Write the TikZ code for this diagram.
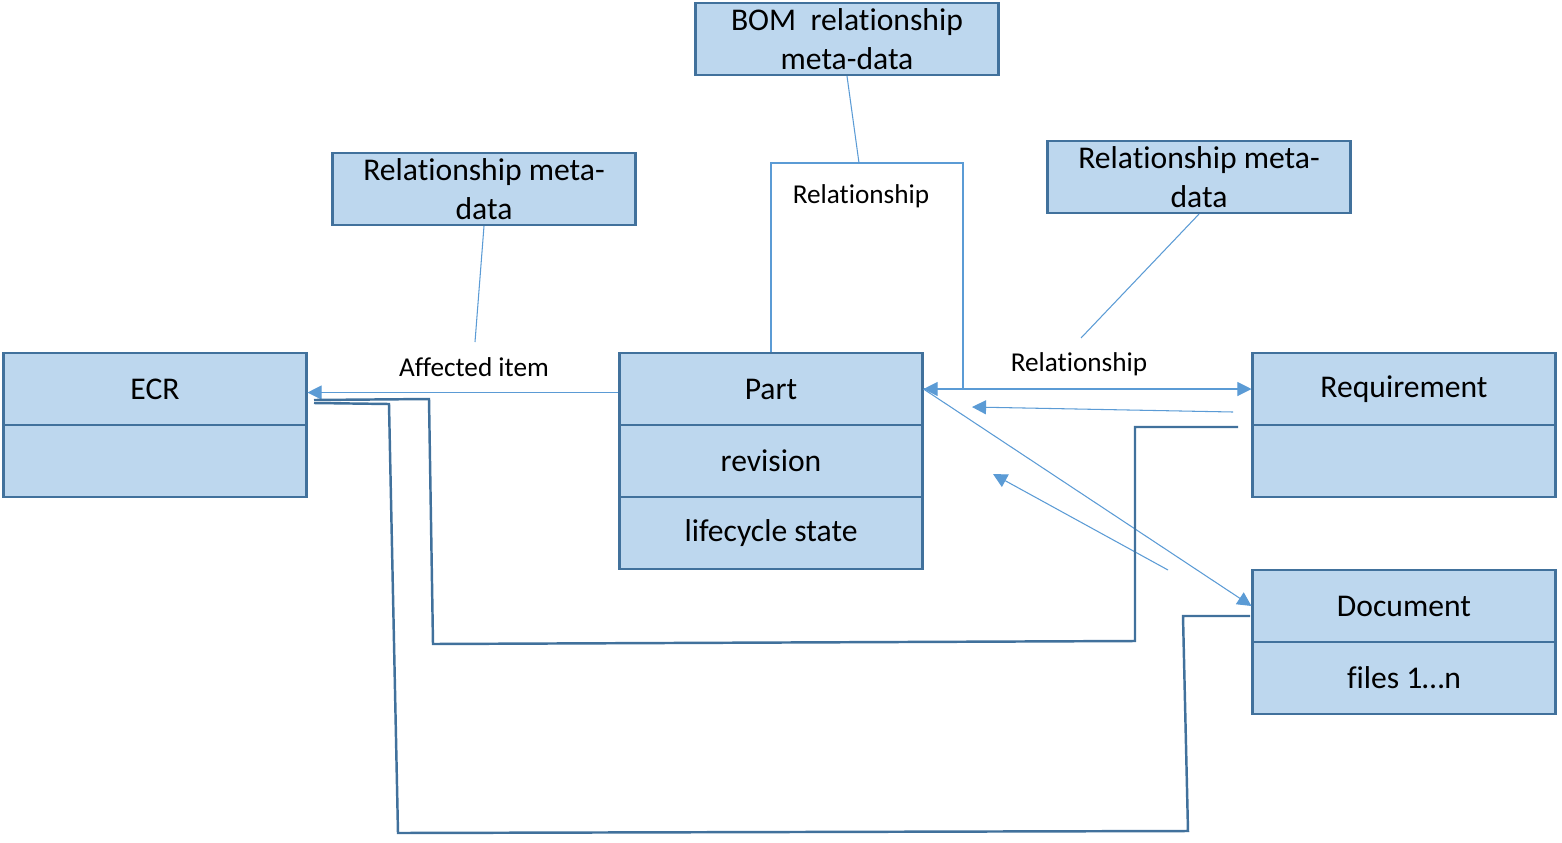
\documentclass[tikz,border=0pt]{standalone}
\usepackage{fontspec}
\setmainfont{Carlito}[Ligatures=NoCommon]
\usepackage{tikz}
\usetikzlibrary{positioning}
\usetikzlibrary{arrows.meta}
\definecolor{boxfill}{RGB}{189,215,238}
\definecolor{boxline}{RGB}{65,113,156}
\definecolor{linkline}{RGB}{91,155,213}
\definecolor{ecrline}{RGB}{65,113,156}

\begin{document}
\begin{tikzpicture}[x=0.02cm,y=-0.02cm,
		box/.style={draw=boxline,fill=boxfill,line width=1.2pt,minimum width=6.06cm,minimum height=1.44cm,inner sep=0pt,align=center,font=\fontsize{18}{22}\selectfont},
		link/.style={draw=linkline,line width=0.6pt},
		tip/.style={-{Triangle[length=8pt,width=8pt]}},
		ecrlink/.style={draw=ecrline,line width=1.4pt},
		lbl/.style={font=\fontsize{15.5}{18}\selectfont}]
		\useasboundingbox (0,0) rectangle (1562,842);
		% boxes
		\node[box] (bom) at (847,39) {BOM\ \ relationship\\meta-data};
		\node[box] (metaleft) at (484,189) {Relationship meta-\\data};
		\node[box] (metaright) at (1199,177) {Relationship meta-\\data};
		\node[box] (ecr) at (155,389) {ECR};
		\node[box,below=-1.2pt of ecr] (ecrbody) {};
		\node[box] (part) at (771,389) {Part};
		\node[box,below=-1.2pt of part] (partrev) {revision};
		\node[box,below=-1.2pt of partrev] (partstate) {lifecycle state};
		\node[box] (req) at (1404,389) {Requirement};
		\node[box,below=-1.2pt of req] (reqbody) {};
		\node[box] (doc) at (1404,606) {Document};
		\node[box,below=-1.2pt of doc] (docfiles) {files 1\ldots n};
		% labels
		\node[lbl] (affected) at (474,367) {Affected item};
		\node[lbl] (bomrel) at (861,196) {Relationship};
		\node[lbl] (reqrel) at (1079,364) {Relationship};
		% affected item
		\draw[link,tip] ([yshift=-2pt]part.west) -- ([yshift=-2pt]ecr.east);
		\draw[link] (metaleft.south) -- (475,342);
		% BOM loop
		\coordinate (bomtop) at (963,163);
		\draw[link,tip] (part.north) |- (bomtop) |- (part.east);
		\draw[link] (bom.south) -- (859,163);
		% requirement and document
		\draw[link,tip] (part.east) -- (req.west);
		\draw[link] (metaright.south) -- (1081,338);
		\draw[link,tip] (1233,412) -- (972,407);
		\draw[link,tip] (part.east) -- (doc.west);
		\draw[link,tip] (1168,570) -- (993,474);
		% back to ECR
		\coordinate (ecrin) at (314,400);
		\coordinate (ecrlow) at (314,403);
		\draw[ecrlink] (1238,427) -- (1135,427) -- (1135,641) -- (433,644) -- (429,399) -- (ecrin);
		\draw[ecrlink] (1250,616) -- (1183,616) -- (1188,831) -- (398,833) -- (389,404) -- (ecrlow);
	\end{tikzpicture}
\end{document}
